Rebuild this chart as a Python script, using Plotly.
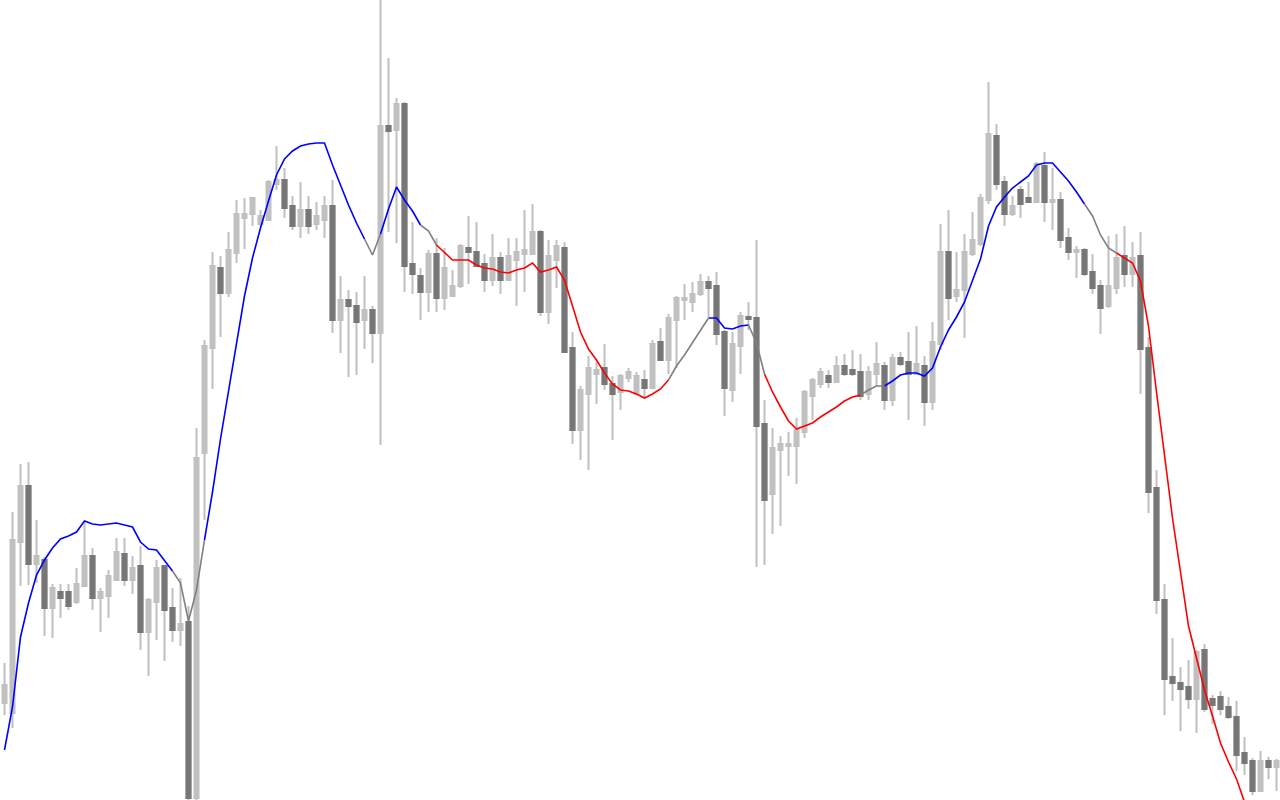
import plotly.graph_objects as go

# Candle index (time axis, no labels shown in the reference)
bars = list(range(160))

opens = [97, 87, 258, 314, 236, 240, 192, 208, 208, 198, 214, 244, 202, 204, 220, 246, 220, 234, 168, 198,
         234, 192, 170, 178, 2, 347, 452, 532, 507, 547, 582, 586, 576, 580, 616, 620, 594, 574, 590, 576,
         580, 594, 480, 500, 494, 480, 490, 467, 674, 670, 696, 536, 524, 508, 546, 502, 504, 514, 552, 548,
         536, 520, 542, 520, 540, 546, 546, 568, 488, 540, 552, 452, 370, 406, 426, 432, 416, 408, 422, 406,
         420, 412, 458, 440, 480, 500, 498, 506, 518, 514, 468, 410, 454, 483, 482, 376, 306, 350, 354, 354,
         368, 404, 416, 424, 418, 434, 430, 428, 406, 426, 434, 400, 442, 438, 426, 434, 398, 456, 548, 504,
         510, 546, 556, 600, 664, 618, 586, 610, 602, 598, 634, 598, 600, 562, 548, 550, 528, 514, 494, 512,
         544, 526, 544, 452, 312, 200, 123, 117, 113, 101, 150, 101, 103, 93, 83, 47, 39, 9, 39, 33]
highs = [137, 288, 336, 338, 280, 243, 216, 216, 216, 232, 278, 252, 212, 230, 262, 262, 244, 254, 202, 240,
         235, 212, 222, 194, 372, 460, 548, 544, 568, 600, 602, 602, 590, 620, 654, 632, 604, 618, 604, 598,
         604, 620, 524, 510, 508, 524, 494, 805, 742, 702, 698, 578, 532, 550, 562, 552, 530, 556, 584, 578,
         546, 566, 548, 562, 562, 590, 596, 570, 560, 560, 558, 468, 414, 444, 438, 456, 424, 426, 432, 428,
         430, 460, 472, 486, 504, 516, 518, 526, 524, 528, 470, 468, 488, 498, 560, 400, 372, 364, 368, 382,
         410, 422, 432, 430, 444, 446, 450, 446, 434, 458, 438, 446, 448, 468, 474, 444, 478, 576, 590, 548,
         566, 588, 606, 718, 676, 624, 604, 614, 618, 638, 648, 632, 608, 572, 554, 552, 546, 520, 564, 566,
         574, 558, 568, 463, 330, 216, 162, 133, 140, 150, 156, 105, 109, 103, 99, 63, 42, 49, 43, 41]
lows = [85, 72, 214, 215, 217, 164, 162, 182, 190, 196, 213, 190, 168, 182, 219, 214, 206, 150, 124, 160,
        139, 158, 154, -5, -5, 280, 411, 463, 503, 537, 551, 574, 574, 579, 610, 582, 570, 562, 566, 570,
        562, 467, 447, 423, 425, 451, 437, 355, 568, 557, 508, 506, 480, 488, 488, 490, 503, 512, 516, 533,
        508, 514, 506, 519, 494, 508, 545, 484, 476, 512, 448, 356, 340, 330, 396, 410, 360, 390, 418, 405,
        402, 411, 439, 426, 432, 480, 488, 504, 483, 455, 384, 398, 426, 470, 233, 235, 266, 274, 324, 316,
        362, 380, 412, 412, 417, 424, 424, 400, 400, 414, 390, 394, 434, 380, 425, 374, 390, 450, 480, 498,
        462, 544, 554, 596, 610, 574, 584, 582, 597, 597, 578, 570, 552, 540, 522, 524, 506, 466, 492, 506,
        513, 513, 406, 287, 186, 85, 99, 69, 91, 67, 88, 76, 85, 81, 29, 25, 5, 8, 21, 9]
closes = [115, 260, 314, 236, 244, 192, 212, 202, 194, 216, 244, 202, 208, 224, 248, 220, 232, 168, 200, 232,
          190, 170, 176, 2, 342, 454, 534, 507, 550, 586, 586, 602, 584, 618, 620, 592, 574, 590, 574, 584,
          594, 480, 500, 494, 478, 490, 467, 674, 669, 696, 534, 526, 508, 546, 502, 532, 514, 554, 548, 534,
          520, 542, 520, 544, 548, 550, 568, 488, 544, 554, 448, 370, 410, 432, 430, 416, 406, 424, 428, 424,
          412, 456, 440, 482, 502, 502, 506, 518, 512, 466, 412, 456, 484, 481, 374, 300, 352, 356, 356, 370,
          408, 420, 428, 418, 434, 426, 426, 404, 428, 436, 400, 442, 436, 426, 436, 398, 458, 548, 502, 510,
          548, 560, 602, 666, 616, 586, 594, 596, 598, 636, 598, 600, 560, 548, 550, 526, 512, 492, 514, 542,
          526, 542, 451, 308, 200, 121, 117, 111, 101, 148, 91, 95, 91, 83, 45, 37, 9, 39, 33, 39]

# Smoothed moving average and its trend state per bar (u = rising, d = falling, f = flat)
ma_values = [50, 93, 163, 197, 225, 240, 252, 261, 264, 268, 279, 276, 275, 276, 277, 275, 273, 258, 251, 250,
             240, 229, 217, 179, 210, 260, 308, 361, 410, 459, 504, 542, 572, 599, 625, 641, 649, 654, 656, 657,
             657, 635, 614, 595, 577, 561, 545, 566, 591, 613, 600, 589, 575, 569, 555, 547, 540, 540, 540, 535,
             532, 531, 528, 527, 530, 532, 537, 528, 530, 533, 520, 494, 468, 451, 440, 427, 416, 410, 409, 406,
             402, 406, 411, 420, 434, 445, 457, 469, 482, 482, 472, 471, 474, 475, 457, 426, 408, 393, 379, 371,
             374, 377, 383, 388, 393, 399, 403, 405, 410, 414, 414, 419, 425, 427, 427, 424, 432, 453, 470, 483,
             498, 519, 541, 574, 593, 603, 612, 618, 624, 635, 637, 637, 628, 619, 608, 596, 584, 565, 552, 547,
             542, 537, 519, 474, 408, 343, 282, 228, 174, 142, 110, 84, 57, 38, 21, -2]
ma_state = list("uuuuuuuuuuuuuuuuuuuuuuffff" + "uuuuuuuuuuuuuuuuuuuu" + "ff" + "uuuuu" + "ff"
                + "d" * 29 + "fffff" + "uuuuu" + "ff" + "d" * 12 + "fff" + "u" * 25 + "ffff" + "d" * 16)

LIGHT = "#c0c0c0"
DARK = "#777777"
STATE_COLOR = {"u": "#0000ff", "d": "#ff0000", "f": "#808080"}

fig = go.Figure()

# All candles: wicks and bodies in light grey
fig.add_trace(go.Candlestick(
    x=bars, open=opens, high=highs, low=lows, close=closes,
    increasing=dict(line=dict(color=LIGHT, width=2), fillcolor=LIGHT),
    decreasing=dict(line=dict(color=LIGHT, width=2), fillcolor=LIGHT),
    whiskerwidth=0, hoverinfo="skip", showlegend=False,
))

# Bearish bodies in dark grey drawn on top (body only, no wick)
down_x, down_o, down_c = [], [], []
for i, o, c in zip(bars, opens, closes):
    if c < o:
        down_x.append(i)
        down_o.append(o)
        down_c.append(c)
fig.add_trace(go.Candlestick(
    x=down_x, open=down_o, high=down_o, low=down_c, close=down_c,
    increasing=dict(line=dict(color=DARK, width=2), fillcolor=DARK),
    decreasing=dict(line=dict(color=DARK, width=2), fillcolor=DARK),
    whiskerwidth=0, hoverinfo="skip", showlegend=False,
))

# Moving average, coloured by trend state (segment i-1 -> i takes colour of bar i)
n_ma = len(ma_values)
runs = []
for i in range(1, n_ma):
    if i == 1 or ma_state[i] != ma_state[i - 1]:
        runs.append([ma_state[i], i - 1, i])
    else:
        runs[-1][2] = i
for st in "udf":
    xs, ys = [], []
    for s, a, b in runs:
        if s != st:
            continue
        xs += list(range(a, b + 1)) + [None]
        ys += ma_values[a:b + 1] + [None]
    fig.add_trace(go.Scatter(
        x=xs, y=ys, mode="lines", line=dict(color=STATE_COLOR[st], width=1.6),
        connectgaps=False, hoverinfo="skip", showlegend=False,
    ))

fig.update_layout(
    width=1280, height=800,
    margin=dict(l=0, r=0, t=0, b=0),
    paper_bgcolor="white", plot_bgcolor="white",
    boxgap=0.5, boxgroupgap=0,
    showlegend=False,
)
fig.update_xaxes(visible=False, range=[-0.5625, 159.4375], rangeslider=dict(visible=False), fixedrange=True)
fig.update_yaxes(visible=False, range=[0, 800], fixedrange=True)

fig.write_html("out.html", config={"displayModeBar": False},
               post_script="document.body.style.margin='0';")
